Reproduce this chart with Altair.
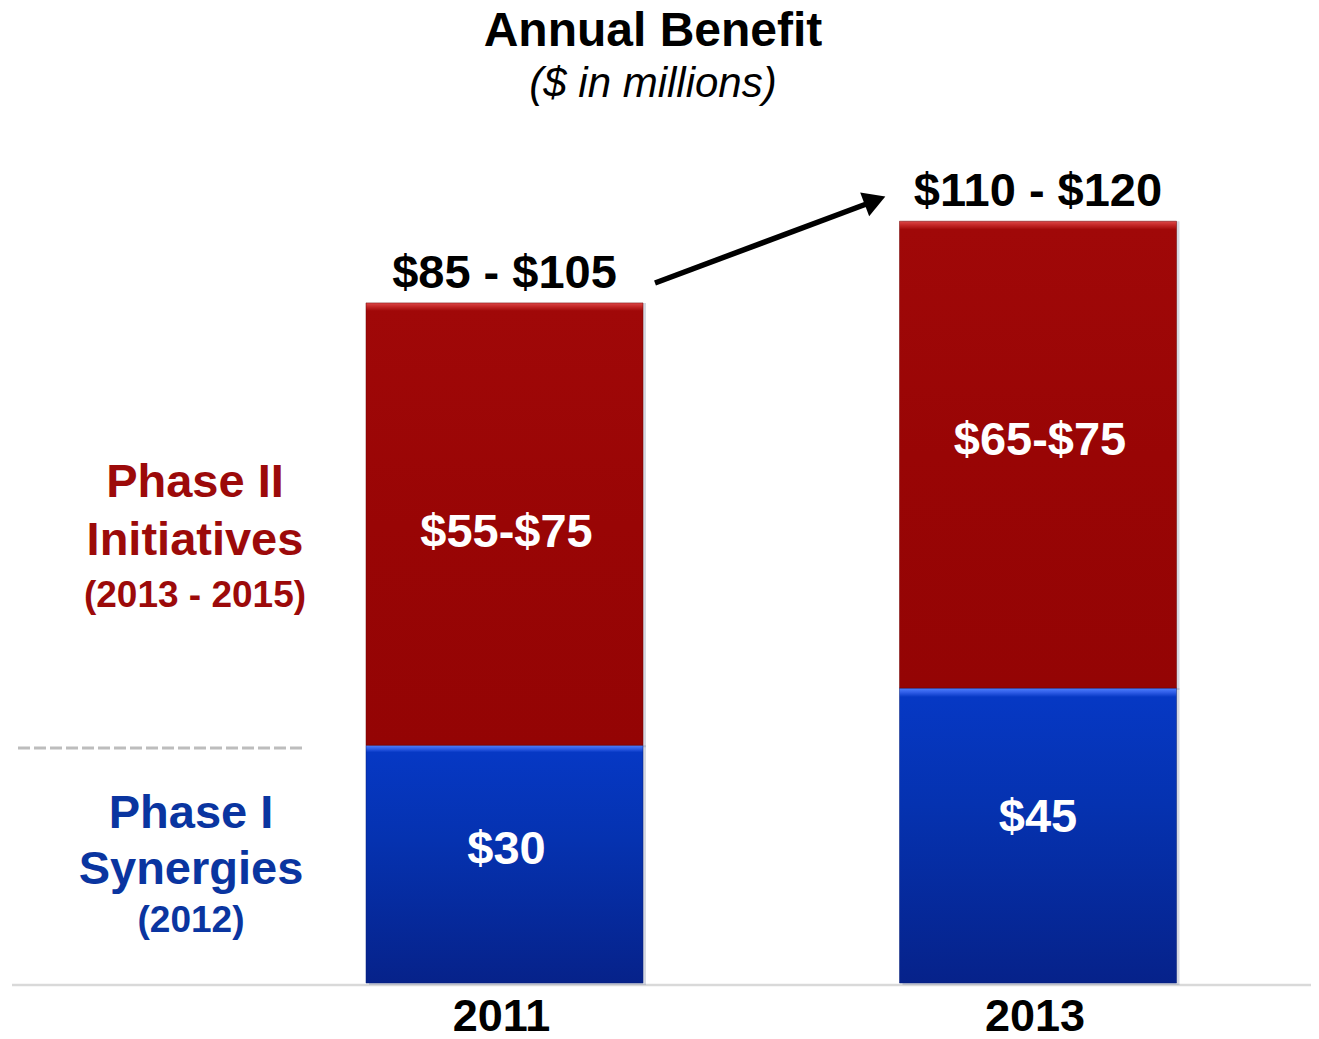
import altair as alt
import pandas as pd

# ---- data ----
years = ["2011", "2013"]
phase1_height = [30.0, 37.2]      # visual bar heights (chart units)
phase2_height = [55.8, 58.9]
phase1_labels = ["$30", "$45"]
phase2_labels = ["$55-$75", "$65-$75"]
total_labels = ["$85 - $105", "$110 - $120"]

rows = []
for i, yr in enumerate(years):
    rows.append(dict(year=yr, segment="Phase I", start=0.0, end=phase1_height[i],
                     label=phase1_labels[i], total=total_labels[i]))
    rows.append(dict(year=yr, segment="Phase II", start=phase1_height[i],
                     end=phase1_height[i] + phase2_height[i],
                     label=phase2_labels[i], total=total_labels[i]))
df = pd.DataFrame(rows)

FONT = "Liberation Sans"
RED_TXT = "#9C0A0A"
BLUE_TXT = "#0A35A0"

x_enc = alt.X("year:N", scale=alt.Scale(domain=years, range=[229.75, 1296.75],
                                         paddingInner=0, paddingOuter=0), axis=None)
y_scale = alt.Scale(domain=[0, 123], nice=False, zero=True)

base = alt.Chart(df)

red_grad = alt.LinearGradient(
    gradient="linear", x1=0, x2=0, y1=0, y2=1,
    stops=[alt.GradientStop(color="#DC4848", offset=0),
           alt.GradientStop(color="#C42828", offset=0.008),
           alt.GradientStop(color="#A00808", offset=0.018),
           alt.GradientStop(color="#990505", offset=0.5),
           alt.GradientStop(color="#940404", offset=1)])
blue_grad = alt.LinearGradient(
    gradient="linear", x1=0, x2=0, y1=0, y2=1,
    stops=[alt.GradientStop(color="#5080FF", offset=0),
           alt.GradientStop(color="#2E5CE6", offset=0.015),
           alt.GradientStop(color="#0638C4", offset=0.03),
           alt.GradientStop(color="#0532B0", offset=0.4),
           alt.GradientStop(color="#06228A", offset=1)])

shadow = base.mark_bar(width=277, color="#8890A8", opacity=0.35, xOffset=3, yOffset=2).encode(
    x=x_enc, y=alt.Y("start:Q", scale=y_scale, axis=None), y2="end:Q")

bars1 = base.transform_filter(alt.datum.segment == "Phase I").mark_bar(
    width=277, color=blue_grad, stroke="#061E78", strokeWidth=1, strokeOpacity=0.5).encode(
    x=x_enc, y=alt.Y("start:Q", scale=y_scale, axis=None), y2="end:Q")
bars2 = base.transform_filter(alt.datum.segment == "Phase II").mark_bar(
    width=277, color=red_grad, stroke="#700000", strokeWidth=1, strokeOpacity=0.5).encode(
    x=x_enc, y=alt.Y("start:Q", scale=y_scale, axis=None), y2="end:Q")

mid = base.transform_calculate(mid="(datum.start + datum.end) / 2")

inner_a = mid.transform_filter("datum.year == '2011' && datum.segment == 'Phase I'").mark_text(
    font=FONT, fontWeight="bold", fontSize=47, color="white", baseline="alphabetic", dx=2).encode(
    x=x_enc, y=alt.Y("mid:Q", scale=y_scale, axis=None), text="label:N")
inner_b = mid.transform_filter("datum.year == '2011' && datum.segment == 'Phase II'").mark_text(
    font=FONT, fontWeight="bold", fontSize=47, color="white", baseline="alphabetic", dy=23, dx=2).encode(
    x=x_enc, y=alt.Y("mid:Q", scale=y_scale, axis=None), text="label:N")
inner_c = mid.transform_filter("datum.year == '2013' && datum.segment == 'Phase II'").mark_text(
    font=FONT, fontWeight="bold", fontSize=47, color="white", baseline="alphabetic", dx=2).encode(
    x=x_enc, y=alt.Y("mid:Q", scale=y_scale, axis=None), text="label:N")
inner_d = mid.transform_filter("datum.year == '2013' && datum.segment == 'Phase I'").mark_text(
    font=FONT, fontWeight="bold", fontSize=47, color="white", baseline="alphabetic", dy=-4).encode(
    x=x_enc, y=alt.Y("mid:Q", scale=y_scale, axis=None), text="label:N")

totals = base.transform_filter(alt.datum.segment == "Phase II").mark_text(
    font=FONT, fontWeight="bold", fontSize=47, color="black", baseline="alphabetic", dy=-15).encode(
    x=x_enc, y=alt.Y("end:Q", scale=y_scale, axis=None), text="total:N")

year_lbl = base.transform_filter(alt.datum.segment == "Phase I").mark_text(
    font=FONT, fontWeight="bold", fontSize=45, color="black", baseline="alphabetic", dx=-3).encode(
    x=x_enc, y=alt.value(1023), text="year:N")

# ---- annotations ----
def txt(s, x, y, size, color, weight="bold", style="normal"):
    return alt.Chart(pd.DataFrame({"t": [s]})).mark_text(
        font=FONT, fontSize=size, fontWeight=weight, fontStyle=style, color=color,
        baseline="alphabetic", align="center").encode(
        x=alt.value(x), y=alt.value(y), text="t:N")

title = txt("Annual Benefit", 645, 38, 48, "black")
subtitle = txt("($ in millions)", 645, 89, 42, "black", weight="normal", style="italic")

left = [
    txt("Phase II", 187, 489, 47, RED_TXT),
    txt("Initiatives", 187, 547, 47, RED_TXT),
    txt("(2013 - 2015)", 187, 599, 37, RED_TXT),
    txt("Phase I", 183, 820, 47, BLUE_TXT),
    txt("Synergies", 183, 876, 47, BLUE_TXT),
    txt("(2012)", 183, 924, 37, BLUE_TXT),
]

one = pd.DataFrame({"k": [0]})
dash = alt.Chart(one).mark_rule(color="#BDBDBD", strokeWidth=3, strokeDash=[12, 4]).encode(
    x=alt.value(10), x2=alt.value(297), y=alt.value(740))
baseline = alt.Chart(one).mark_rule(color="#D9D9D9", strokeWidth=2.5).encode(
    x=alt.value(4), x2=alt.value(1311), y=alt.value(977))
arrow_line = alt.Chart(one).mark_rule(color="black", strokeWidth=5.5).encode(
    x=alt.value(647), x2=alt.value(861), y=alt.value(275), y2=alt.value(195))
arrow_head = alt.Chart(one).mark_point(shape="triangle-right", filled=True, color="black",
                                       opacity=1, size=650, angle=339.4).encode(
    x=alt.value(867), y=alt.value(192.5))

chart = alt.layer(
    baseline, shadow, bars1, bars2, inner_a, inner_b, inner_c, inner_d, totals, year_lbl,
    title, subtitle, *left, dash, arrow_line, arrow_head
).properties(
    width=1303, height=975,
    padding={"left": 0, "top": 0, "right": 0, "bottom": 48},
    autosize=alt.AutoSizeParams(type="none"),
).configure_view(stroke=None)

chart.save("out.html", embed_options={"renderer": "svg", "actions": False})
